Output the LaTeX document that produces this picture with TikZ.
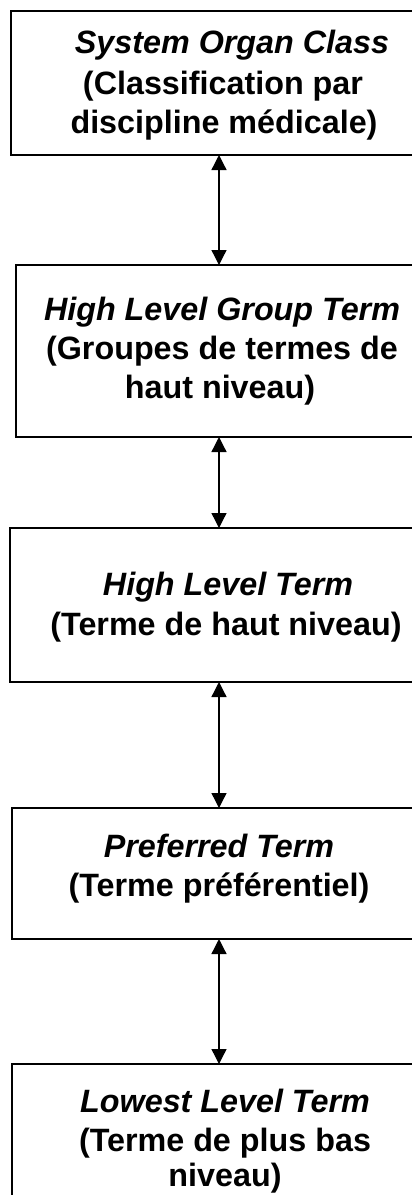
\documentclass[tikz,border=0pt]{standalone}
\usepackage{fontspec}
\setmainfont{Liberation Sans}
\usetikzlibrary{arrows.meta}
\begin{document}
\begin{tikzpicture}[x=1pt,y=-1pt,
  termbox/.style={draw=black,line width=2pt,anchor=north west,inner sep=0pt,outer sep=0pt},
  ln/.style={anchor=base,inner sep=0pt,font=\fontsize{32.3}{38}\selectfont\bfseries},
  it/.style={ln,font=\fontsize{32.3}{38}\selectfont\bfseries\itshape},
  link/.style={line width=1.3pt,{Triangle[width=15pt,length=15pt]}-{Triangle[width=15pt,length=15pt]}}]
\useasboundingbox (0,0) rectangle (412,1195);
\clip (0,0) rectangle (412,1195);
\node[termbox,minimum width=420pt,minimum height=144pt] (b1) at (11,11) {};
\node[termbox,minimum width=420pt,minimum height=172pt] (b2) at (16,265) {};
\node[termbox,minimum width=420pt,minimum height=154pt] (b3) at (10,528) {};
\node[termbox,minimum width=420pt,minimum height=131pt] (b4) at (12,808) {};
\node[termbox,minimum width=420pt,minimum height=150pt] (b5) at (12,1064) {};
\node[it] (t11) at (232,53) {System Organ Class};
\node[ln] (t12) at (223,94) {(Classification par};
\node[ln] (t13) at (224,133) {discipline médicale)};
\node[it] (t21) at (222,320) {High Level Group Term};
\node[ln] (t22) at (222,359) {(Groupes de termes de};
\node[ln] (t23) at (220,398) {haut niveau)};
\node[it] (t31) at (228,595) {High Level Term};
\node[ln] (t32) at (226,635) {(Terme de haut niveau)};
\node[it] (t41) at (219,857) {Preferred Term};
\node[ln] (t42) at (219,896) {(Terme préférentiel)};
\node[it] (t51) at (225,1112) {Lowest Level Term};
\node[ln] (t52) at (225,1151) {(Terme de plus bas};
\node[ln] (t53) at (225,1186) {niveau)};
\coordinate (ax) at (219,0);
\draw[link] (b1.south -| ax) -- (b2.north -| ax);
\draw[link] (b2.south -| ax) -- (b3.north -| ax);
\draw[link] (b3.south -| ax) -- (b4.north -| ax);
\draw[link] (b4.south -| ax) -- (b5.north -| ax);
\end{tikzpicture}
\end{document}
